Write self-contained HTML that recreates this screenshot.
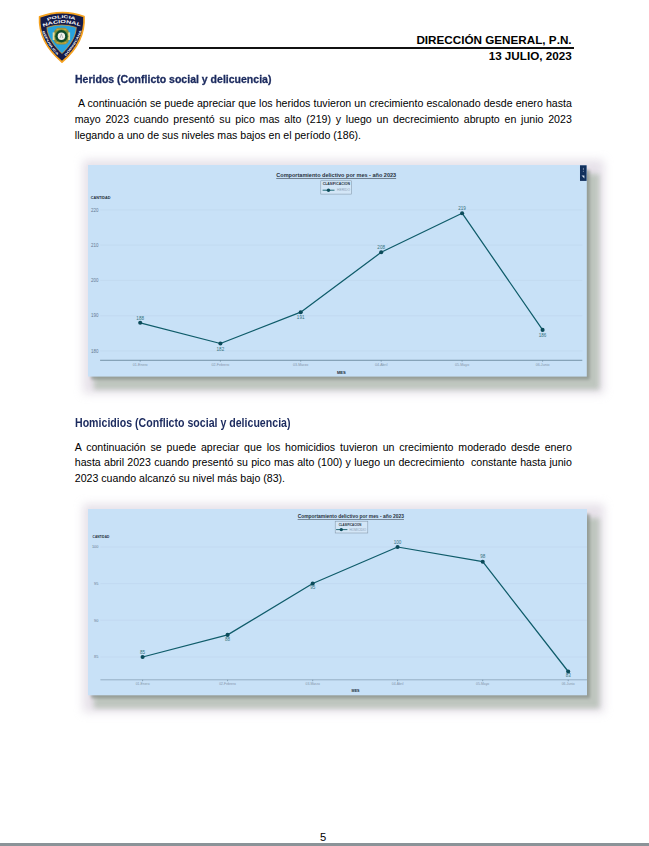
<!DOCTYPE html>
<html lang="es"><head><meta charset="utf-8"><title>Dirección General, P.N.</title>
<style>
html,body{margin:0;padding:0;background:#fff;}
body{width:649px;height:846px;position:relative;overflow:hidden;font-family:"Liberation Sans",sans-serif;color:#111;}
.chart,.logo{position:absolute;font-family:"Liberation Sans",sans-serif;}
.ln{position:absolute;white-space:nowrap;height:16px;line-height:16px;}
.b{font-size:10.6px;text-align:justify;text-align-last:justify;white-space:normal;color:#000;}
.nj{text-align:left;text-align-last:left;white-space:nowrap;}
.h{font-weight:bold;color:#1b2a5e;transform-origin:0 50%;display:inline-block;}
.h1{font-size:10.9px;transform:scaleX(0.966);-webkit-text-stroke:0.3px #1b2a5e;}
.h2{font-size:12.8px;transform:scaleX(0.828);}
.hd{font-size:11.7px;font-weight:bold;color:#000;text-align:right;font-kerning:none;}
.rule{position:absolute;left:89px;top:46.9px;width:485px;height:1.8px;background:#111;}
.pg{position:absolute;left:-1.4px;width:649px;text-align:center;top:830.4px;font-size:11.2px;height:14px;line-height:14px;color:#000;}
.foot{position:absolute;left:0;top:843px;width:649px;height:3px;background:#8b9398;}
</style></head><body>
<svg class="logo" style="left:32px;top:6px" width="60" height="64" viewBox="32 6 60 64">
<defs>
<path id="pa1" d="M47.4 21.0 Q61.4 15.6 75.6 20.2"/>
<path id="pa2" d="M43.2 27.0 Q61.4 19.6 79.8 26.2"/>
<path id="pa3" d="M42.4 31.4 Q47.2 45 58.6 56.6"/>
<path id="pa4" d="M65.6 56.2 Q77.2 44 82 29.6"/>
</defs>
<path d="M39.6 16.9 Q62 8.4 84 16.5 C84.8 30 81.4 45.6 62 62 C42.6 45.6 38.9 30 39.6 16.9 Z" fill="#141b49" stroke="#f6a21e" stroke-width="1.7" stroke-linejoin="round"/>
<path d="M46.9 27.4 Q61.6 22.6 76.3 27.4 C76 36.4 70.2 46 62 53.5 C53.8 46 47.2 36.4 46.9 27.4 Z" fill="#27a2dd" stroke="#f0a326" stroke-width="0.7" stroke-linejoin="round"/>
<path d="M54.8 30 L57.8 27.8 L65 27.8 L68 30 L69.6 34 L69.6 38.6 L68 42.6 L65 44.6 L57.8 44.6 L54.8 42.6 L53.2 38.6 L53.2 34 Z" fill="#8f8e3c"/>
<path d="M56.4 28.8 L66.4 28.8 L66.4 30.4 L56.4 30.4 Z M56.4 42 L66.4 42 L66.4 43.6 L56.4 43.6 Z" fill="#c9a63c"/>
<rect x="52.7" y="32.4" width="1.9" height="7.6" fill="#e6dca0"/>
<rect x="68.2" y="32.4" width="1.9" height="7.6" fill="#e6dca0"/>
<circle cx="61.4" cy="36.2" r="6.9" fill="#6f8d3a"/>
<circle cx="61.4" cy="36.2" r="6.1" fill="#0f4a2b"/>
<circle cx="61.4" cy="36.2" r="3.7" fill="#f3f2ec"/>
<path d="M61.4 33.8 L60 38 M61.4 33.8 L62.8 38" stroke="#7d8288" stroke-width="0.55" fill="none"/>
<text font-size="4.1" font-weight="bold" fill="#fff"><textPath href="#pa1" textLength="28.4" lengthAdjust="spacingAndGlyphs">POLICIA</textPath></text>
<text font-size="4.5" font-weight="bold" fill="#fff"><textPath href="#pa2" textLength="38" lengthAdjust="spacingAndGlyphs">NACIONAL</textPath></text>
<text font-size="3" font-weight="bold" fill="#fff"><textPath href="#pa3" textLength="28.6" lengthAdjust="spacingAndGlyphs">REPUBLICA</textPath></text>
<text font-size="3" font-weight="bold" fill="#fff"><textPath href="#pa4" textLength="30.4" lengthAdjust="spacingAndGlyphs">DOMINICANA</textPath></text>
</svg>
<div class="ln hd" style="top:31.6px;left:371.6px;width:200px">DIRECCIÓN GENERAL, P.N.</div>
<div class="rule"></div>
<div class="ln hd" style="top:48.2px;left:371.8px;width:200px">13 JULIO, 2023</div>

<div class="ln h h1" style="top:71.1px;left:74.8px">Heridos (Conflicto social y delicuencia)</div>
<div class="ln b" style="top:95.4px;left:74.8px;width:497px">&nbsp;A continuación se puede apreciar que los heridos tuvieron un crecimiento escalonado desde enero hasta</div>
<div class="ln b" style="top:111.2px;left:74.8px;width:497px">mayo 2023 cuando presentó su pico mas alto (219) y luego un decrecimiento abrupto en junio 2023</div>
<div class="ln b nj" style="top:126.9px;left:74.8px;width:497px">llegando a uno de sus niveles mas bajos en el período (186).</div>
<svg class="chart" style="left:64.2px;top:141px" width="554.8" height="267.6" viewBox="64.2 141 554.8 267.6">
<defs><filter id="sh1" x="-10%" y="-15%" width="125%" height="140%"><feGaussianBlur stdDeviation="2.6"/></filter><filter id="sd1" x="-10%" y="-15%" width="125%" height="140%"><feGaussianBlur stdDeviation="1.6"/></filter><filter id="gl1" x="-10%" y="-15%" width="125%" height="140%"><feGaussianBlur stdDeviation="5"/></filter></defs>
<rect x="83.2" y="160" width="520.8" height="233.6" fill="#cdc3d3" opacity="0.5" filter="url(#gl1)"/>
<rect x="94.2" y="174" width="505.3" height="215.6" fill="#bcc4bc" opacity="0.95" filter="url(#sh1)"/>
<rect x="91.2" y="170" width="498.8" height="209.6" fill="#757c75" opacity="0.55" filter="url(#sd1)"/>
<rect x="88.2" y="165" width="498.8" height="211.6" fill="#c8e1f7"/>
<line x1="100.3" x2="582.5" y1="209.9" y2="209.9" stroke="#bcd3ea" stroke-width="0.5"/>
<text x="98.6" y="211.52" font-size="4.5" fill="#667a92" text-anchor="end">220</text>
<line x1="100.3" x2="582.5" y1="245.1" y2="245.1" stroke="#bcd3ea" stroke-width="0.5"/>
<text x="98.6" y="246.72" font-size="4.5" fill="#667a92" text-anchor="end">210</text>
<line x1="100.3" x2="582.5" y1="280.4" y2="280.4" stroke="#bcd3ea" stroke-width="0.5"/>
<text x="98.6" y="282.02" font-size="4.5" fill="#667a92" text-anchor="end">200</text>
<line x1="100.3" x2="582.5" y1="315.7" y2="315.7" stroke="#bcd3ea" stroke-width="0.5"/>
<text x="98.6" y="317.32" font-size="4.5" fill="#667a92" text-anchor="end">190</text>
<line x1="100.3" x2="582.5" y1="350.9" y2="350.9" stroke="#bcd3ea" stroke-width="0.5"/>
<text x="98.6" y="352.52" font-size="4.5" fill="#667a92" text-anchor="end">180</text>
<line x1="100.3" x2="582.5" y1="360.3" y2="360.3" stroke="#5f7d92" stroke-width="0.8"/>
<line x1="140.4" x2="140.4" y1="360.3" y2="361.7" stroke="#5f7d92" stroke-width="0.6"/>
<text x="140.4" y="365.8" font-size="3.65" fill="#8495aa" text-anchor="middle">01-Enero</text>
<line x1="220.6" x2="220.6" y1="360.3" y2="361.7" stroke="#5f7d92" stroke-width="0.6"/>
<text x="220.6" y="365.8" font-size="3.65" fill="#8495aa" text-anchor="middle">02-Febrero</text>
<line x1="300.9" x2="300.9" y1="360.3" y2="361.7" stroke="#5f7d92" stroke-width="0.6"/>
<text x="300.9" y="365.8" font-size="3.65" fill="#8495aa" text-anchor="middle">03-Marzo</text>
<line x1="381.4" x2="381.4" y1="360.3" y2="361.7" stroke="#5f7d92" stroke-width="0.6"/>
<text x="381.4" y="365.8" font-size="3.65" fill="#8495aa" text-anchor="middle">04-Abril</text>
<line x1="462.3" x2="462.3" y1="360.3" y2="361.7" stroke="#5f7d92" stroke-width="0.6"/>
<text x="462.3" y="365.8" font-size="3.65" fill="#8495aa" text-anchor="middle">05-Mayo</text>
<line x1="542.8" x2="542.8" y1="360.3" y2="361.7" stroke="#5f7d92" stroke-width="0.6"/>
<text x="542.8" y="365.8" font-size="3.65" fill="#8495aa" text-anchor="middle">06-Junio</text>
<path d="M140.4 322.8 L220.6 343.5 L300.9 312.2 L381.4 252.3 L462.3 213.2 L542.8 329.9" fill="none" stroke="#0f5c6a" stroke-width="1.25" stroke-linejoin="round"/>
<circle cx="140.4" cy="322.8" r="2.05" fill="#0b4b5a"/>
<text x="140.4" y="319.6" font-size="4.6" fill="#36727e" text-anchor="middle">188</text>
<circle cx="220.6" cy="343.5" r="2.05" fill="#0b4b5a"/>
<text x="220.6" y="350.7" font-size="4.6" fill="#36727e" text-anchor="middle">182</text>
<circle cx="300.9" cy="312.2" r="2.05" fill="#0b4b5a"/>
<text x="300.9" y="319.4" font-size="4.6" fill="#36727e" text-anchor="middle">191</text>
<circle cx="381.4" cy="252.3" r="2.05" fill="#0b4b5a"/>
<text x="381.4" y="249.10000000000002" font-size="4.6" fill="#36727e" text-anchor="middle">208</text>
<circle cx="462.3" cy="213.2" r="2.05" fill="#0b4b5a"/>
<text x="462.3" y="210.0" font-size="4.6" fill="#36727e" text-anchor="middle">219</text>
<circle cx="542.8" cy="329.9" r="2.05" fill="#0b4b5a"/>
<text x="542.8" y="337.09999999999997" font-size="4.6" fill="#36727e" text-anchor="middle">186</text>
<text x="336.4" y="177.0" font-size="5.55" font-weight="bold" fill="#28323d" text-anchor="middle" text-decoration="underline">Comportamiento delictivo por mes - año 2023</text>
<rect x="321" y="180.8" width="30.5" height="13.3" fill="#d3e6f7" stroke="#8396a8" stroke-width="0.55"/>
<text x="322.9" y="185.5" font-size="3.5" font-weight="bold" fill="#222e3a" textLength="27.2" lengthAdjust="spacingAndGlyphs">CLASIFICACION</text>
<line x1="322.8" x2="334.7" y1="190.2" y2="190.2" stroke="#0f5c6a" stroke-width="0.9"/>
<circle cx="328.7" cy="190.2" r="1.7" fill="#0b4b5a"/>
<text x="337.3" y="191.50" font-size="3.6" fill="#8b9db3" textLength="12.9" lengthAdjust="spacingAndGlyphs">HERIDO</text>
<text x="90.9" y="198.9" font-size="3.8" font-weight="bold" fill="#222e3a">CANTIDAD</text>
<text x="341.6" y="373.9" font-size="4.1" font-weight="bold" fill="#222e3a" text-anchor="middle">MES</text>
<rect x="580.2" y="165.3" width="6.6" height="15.6" fill="#12305c"/>
<circle cx="583.5" cy="168.2" r="0.45" fill="#dfe8f5"/><circle cx="583.5" cy="169.8" r="0.45" fill="#dfe8f5"/><circle cx="583.5" cy="171.4" r="0.45" fill="#dfe8f5"/>
<path d="M581.8 175.6 l2.8 2.8 l0 -2.8 z" fill="#d5deec"/>
</svg>
<div class="ln h h2" style="top:414.6px;left:74.8px">Homicidios (Conflicto social y delicuencia)</div>
<div class="ln b" style="top:438.7px;left:74.8px;width:497px">A continuación se puede apreciar que los homicidios tuvieron un crecimiento moderado desde enero</div>
<div class="ln b" style="top:454.4px;left:74.8px;width:497px">hasta abril 2023 cuando presentó su pico mas alto (100) y luego un decrecimiento&nbsp; constante hasta junio</div>
<div class="ln b nj" style="top:470.1px;left:74.8px;width:497px">2023 cuando alcanzó su nivel más bajo (83).</div>
<svg class="chart" style="left:64.2px;top:484.8px" width="555" height="242.3" viewBox="64.2 484.8 555 242.3">
<defs><filter id="sh2" x="-10%" y="-15%" width="125%" height="140%"><feGaussianBlur stdDeviation="2.6"/></filter><filter id="sd2" x="-10%" y="-15%" width="125%" height="140%"><feGaussianBlur stdDeviation="1.6"/></filter><filter id="gl2" x="-10%" y="-15%" width="125%" height="140%"><feGaussianBlur stdDeviation="5"/></filter></defs>
<rect x="83.2" y="503.8" width="521" height="208.3" fill="#cdc3d3" opacity="0.5" filter="url(#gl2)"/>
<rect x="94.2" y="517.8" width="505.5" height="190.3" fill="#bcc4bc" opacity="0.95" filter="url(#sh2)"/>
<rect x="91.2" y="513.8" width="499" height="184.3" fill="#757c75" opacity="0.55" filter="url(#sd2)"/>
<rect x="88.2" y="508.8" width="499" height="186.3" fill="#c8e1f7"/>
<line x1="100.6" x2="587.2" y1="546.8" y2="546.8" stroke="#bcd3ea" stroke-width="0.5"/>
<text x="98.6" y="548.20" font-size="3.9" fill="#667a92" text-anchor="end">100</text>
<line x1="100.6" x2="587.2" y1="583.4" y2="583.4" stroke="#bcd3ea" stroke-width="0.5"/>
<text x="98.6" y="584.80" font-size="3.9" fill="#667a92" text-anchor="end">95</text>
<line x1="100.6" x2="587.2" y1="620.0" y2="620.0" stroke="#bcd3ea" stroke-width="0.5"/>
<text x="98.6" y="621.40" font-size="3.9" fill="#667a92" text-anchor="end">90</text>
<line x1="100.6" x2="587.2" y1="656.8" y2="656.8" stroke="#bcd3ea" stroke-width="0.5"/>
<text x="98.6" y="658.20" font-size="3.9" fill="#667a92" text-anchor="end">85</text>
<line x1="100.6" x2="587.2" y1="679.6" y2="679.6" stroke="#7f98ad" stroke-width="0.7"/>
<line x1="142.8" x2="142.8" y1="679.6" y2="681.0" stroke="#5f7d92" stroke-width="0.6"/>
<text x="142.8" y="684.4" font-size="3.4" fill="#8495aa" text-anchor="middle">01-Enero</text>
<line x1="227.8" x2="227.8" y1="679.6" y2="681.0" stroke="#5f7d92" stroke-width="0.6"/>
<text x="227.8" y="684.4" font-size="3.4" fill="#8495aa" text-anchor="middle">02-Febrero</text>
<line x1="312.9" x2="312.9" y1="679.6" y2="681.0" stroke="#5f7d92" stroke-width="0.6"/>
<text x="312.9" y="684.4" font-size="3.4" fill="#8495aa" text-anchor="middle">03-Marzo</text>
<line x1="397.8" x2="397.8" y1="679.6" y2="681.0" stroke="#5f7d92" stroke-width="0.6"/>
<text x="397.8" y="684.4" font-size="3.4" fill="#8495aa" text-anchor="middle">04-Abril</text>
<line x1="482.9" x2="482.9" y1="679.6" y2="681.0" stroke="#5f7d92" stroke-width="0.6"/>
<text x="482.9" y="684.4" font-size="3.4" fill="#8495aa" text-anchor="middle">05-Mayo</text>
<line x1="568.4" x2="568.4" y1="679.6" y2="681.0" stroke="#5f7d92" stroke-width="0.6"/>
<text x="568.4" y="684.4" font-size="3.4" fill="#8495aa" text-anchor="middle">06-Junio</text>
<path d="M142.8 656.8 L227.8 634.7 L312.9 583.3 L397.8 546.8 L482.9 561.5 L568.4 671.3" fill="none" stroke="#0f5c6a" stroke-width="1.25" stroke-linejoin="round"/>
<circle cx="142.8" cy="656.8" r="2.05" fill="#0b4b5a"/>
<text x="142.8" y="653.5" font-size="4.6" fill="#36727e" text-anchor="middle">85</text>
<circle cx="227.8" cy="634.7" r="2.05" fill="#0b4b5a"/>
<text x="227.8" y="640.7" font-size="4.6" fill="#36727e" text-anchor="middle">88</text>
<circle cx="312.9" cy="583.3" r="2.05" fill="#0b4b5a"/>
<text x="312.9" y="589.3" font-size="4.6" fill="#36727e" text-anchor="middle">95</text>
<circle cx="397.8" cy="546.8" r="2.05" fill="#0b4b5a"/>
<text x="397.8" y="543.5" font-size="4.6" fill="#36727e" text-anchor="middle">100</text>
<circle cx="482.9" cy="561.5" r="2.05" fill="#0b4b5a"/>
<text x="482.9" y="558.2" font-size="4.6" fill="#36727e" text-anchor="middle">98</text>
<circle cx="568.4" cy="671.3" r="2.05" fill="#0b4b5a"/>
<text x="568.4" y="677.3" font-size="4.6" fill="#36727e" text-anchor="middle">83</text>
<text x="351" y="517.9" font-size="4.92" font-weight="bold" fill="#28323d" text-anchor="middle" text-decoration="underline">Comportamiento delictivo por mes - año 2023</text>
<rect x="335.4" y="521" width="32.6" height="11.8" fill="#d3e6f7" stroke="#8396a8" stroke-width="0.55"/>
<text x="338.9" y="525.9" font-size="3.0" font-weight="bold" fill="#222e3a" textLength="22.7" lengthAdjust="spacingAndGlyphs">CLASIFICACION</text>
<line x1="336.3" x2="347.6" y1="529.4" y2="529.4" stroke="#0f5c6a" stroke-width="0.9"/>
<circle cx="341.5" cy="529.4" r="1.7" fill="#0b4b5a"/>
<text x="349.7" y="530.55" font-size="3.2" fill="#8b9db3" textLength="16.8" lengthAdjust="spacingAndGlyphs">HOMICIDIO</text>
<text x="92.8" y="537.4" font-size="3.2" font-weight="bold" fill="#222e3a">CANTIDAD</text>
<text x="355.8" y="691.8" font-size="3.7" font-weight="bold" fill="#222e3a" text-anchor="middle">MES</text>
</svg>
<div class="pg">5</div>
<div class="foot"></div>
</body></html>
